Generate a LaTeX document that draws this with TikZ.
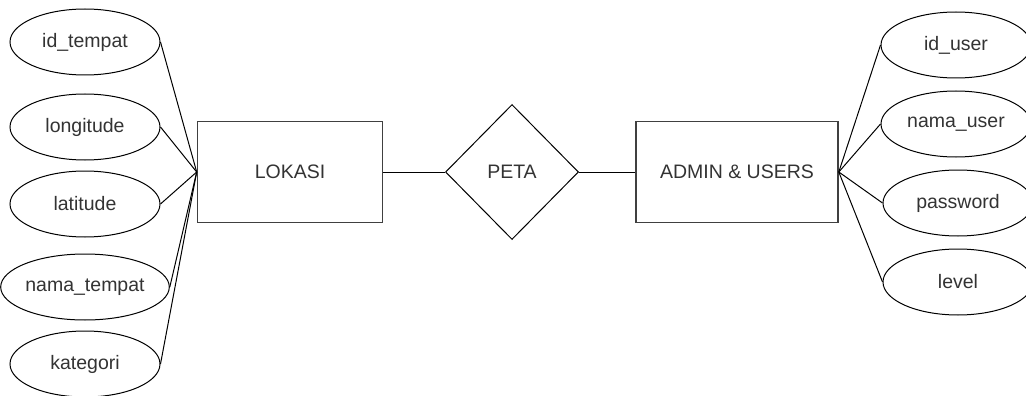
\documentclass[tikz,border=0pt]{standalone}
\usepackage{fontspec}
\setmainfont{Liberation Sans}
\usetikzlibrary{shapes.geometric}

\begin{document}
\begin{tikzpicture}
  [x=1pt,y=-1pt,line width=1pt,
   every node/.style={font=\fontsize{19.5}{23}\selectfont,text=black!80},
   attr/.style={ellipse,draw,minimum width=150pt,minimum height=66pt,inner sep=0pt},
   entity/.style={rectangle,draw=black!75,line width=1.6pt,minimum height=101pt},
   rel/.style={diamond,draw,minimum width=133pt,minimum height=135pt,inner sep=0pt}]
  \useasboundingbox (0,0) rectangle (1026,396);

  % entities and relation
  \node[entity,minimum width=185pt] (lokasi) at (290,172) {LOKASI};
  \node[rel] (peta) at (512,172) {PETA};
  \node[entity,minimum width=202pt] (admin) at (737,172) {ADMIN \& USERS};

  % attributes of lokasi
  \node[attr] (a1) at (85,42)  {id\_tempat};
  \node[attr] (a2) at (85,127) {longitude};
  \node[attr] (a3) at (85,204) {latitude};
  \node[attr] (a4) at (85,287) {nama\_tempat};
  \node[attr] (a5) at (85,364) {kategori};

  % attributes of admin & users
  \node[attr] (u1) at (956,45)  {id\_user};
  \node[attr] (u2) at (956,124) {nama\_user};
  \node[attr] (u3) at (958,203) {password};
  \node[attr] (u4) at (958,282) {level};

  \foreach \from in {a1,a2,a3,a4,a5}
    \draw (\from.east) -- (lokasi.west);
  \foreach \to in {u1,u2,u3,u4}
    \draw (admin.east) -- (\to.west);
  \draw (lokasi) -- (peta) -- (admin);
\end{tikzpicture}
\end{document}
